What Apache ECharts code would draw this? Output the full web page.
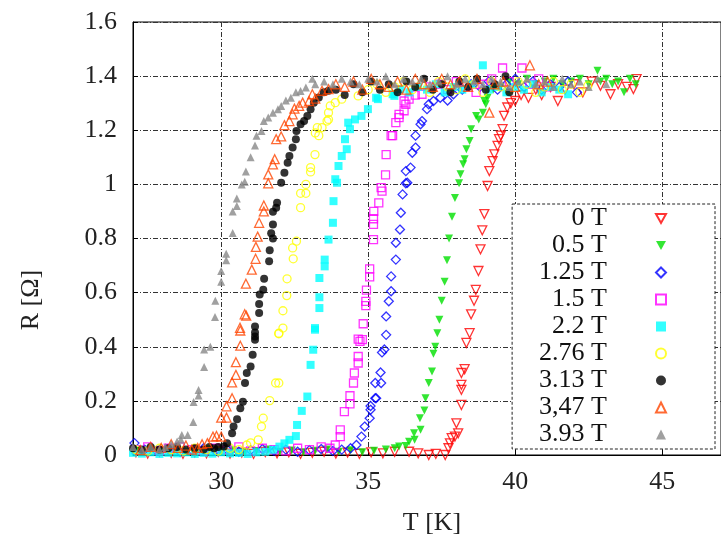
<!DOCTYPE html>
<html>
<head>
<meta charset="utf-8">
<script src="https://cdn.jsdelivr.net/npm/echarts@6/dist/echarts.min.js"></script>
<style>
  html, body { margin: 0; padding: 0; background: #fff; }
  #chart { width: 721px; height: 537px; }
</style>
</head>
<body>
<div id="chart"></div>
<script>
// Resistance R [Ω] versus temperature T [K] for several applied magnetic fields.
const fieldNames = ['0 T', '0.5 T', '1.25 T', '1.5 T', '2.2 T', '2.76 T', '3.13 T', '3,47 T', '3.93 T'];
const xTickValues = [30, 35, 40, 45];

const r0T = [
  [27.1,0.01],[27.5,0.005],[27.9,0.012],[28.3,0.008],[28.7,0.004],[29.1,0.01],[29.5,0.006],[29.9,0.012],[30.3,0.005],[30.7,0.009],
  [31.1,0.004],[31.5,0.011],[31.9,0.006],[32.3,0.01],[32.7,0.004],[33.1,0.008],[33.5,0.012],[33.9,0.005],[34.3,0.009],[34.7,0.004],
  [35.1,0.01],[35.5,0.006],[35.9,0.012],[36.39,0.012],[36.7,0.006],[37.06,0.0],[37.3,0.004],[37.62,0.0],
  [37.73,0.025],[37.78,0.043],[37.84,0.062],[37.95,0.068],[38.06,0.08],[38.0,0.117],[38.17,0.185],[38.17,0.241],[38.17,0.259],
  [38.17,0.303],[38.28,0.317],[38.34,0.414],[38.45,0.45],[38.5,0.52],[38.6,0.57],[38.66,0.61],[38.75,0.68],[38.82,0.76],
  [38.88,0.83],[38.95,0.89],[39.06,0.994],[39.12,1.049],[39.23,1.086],[39.29,1.111],[39.4,1.142],[39.45,1.167],[39.51,1.18],
  [39.57,1.204],[39.62,1.253],[39.73,1.284],[39.85,1.30],[40.0,1.308],[40.2,1.33],[40.45,1.32],[40.7,1.35],[40.9,1.33],
  [41.2,1.36],[41.45,1.308],[41.7,1.35],[42.0,1.37],[42.3,1.34],[42.6,1.38],[42.9,1.364],[43.24,1.333],[43.5,1.37],
  [43.8,1.36],[44.02,1.352],[44.13,1.389]
];

const r05T = [
  [27.2,0.015],[27.6,0.02],[28.0,0.012],[28.4,0.018],[28.8,0.01],[29.2,0.016],[29.6,0.02],[30.0,0.012],[30.4,0.018],[30.8,0.01],
  [31.2,0.015],[31.6,0.02],[32.0,0.012],[32.4,0.017],[32.8,0.01],[33.2,0.016],[33.6,0.02],[34.0,0.012],[34.4,0.018],[34.8,0.01],
  [35.2,0.016],[35.6,0.02],[35.9,0.025],[36.05,0.031],[36.28,0.033],
  [36.39,0.049],[36.58,0.056],[36.56,0.08],[36.78,0.093],[36.76,0.136],[36.91,0.164],[36.95,0.21],[37.06,0.266],[37.17,0.309],
  [37.22,0.374],[37.28,0.40],[37.35,0.45],[37.42,0.50],[37.5,0.57],[37.6,0.64],[37.68,0.72],[37.75,0.80],[37.85,0.88],
  [37.95,0.95],[38.09,1.004],[38.14,1.037],[38.23,1.074],[38.28,1.093],[38.34,1.13],[38.45,1.16],[38.5,1.204],[38.67,1.253],
  [38.76,1.24],[38.9,1.265],[39.0,1.296],[38.95,1.308],[39.06,1.32],[39.25,1.35],[39.5,1.36],[39.8,1.38],[40.1,1.37],
  [40.4,1.39],[40.7,1.37],[41.0,1.38],[41.3,1.39],[41.6,1.37],[41.9,1.38],[42.2,1.39],[42.5,1.37],[42.8,1.42],[42.9,1.38],
  [43.1,1.39],[43.3,1.37],[43.5,1.38],[43.7,1.34],[43.9,1.39],[44.1,1.37]
];

const r125T = [
  [27.05,0.044],[27.4,0.02],[27.8,0.015],[28.2,0.022],[28.6,0.012],[29.0,0.018],[29.4,0.025],[29.8,0.015],[30.2,0.02],[30.6,0.012],
  [31.0,0.018],[31.4,0.022],[31.8,0.015],[32.2,0.02],[32.6,0.012],[33.0,0.018],[33.4,0.022],[33.8,0.015],[34.1,0.02],[34.4,0.025],
  [34.6,0.037],[34.77,0.068],[34.88,0.105],[35.05,0.136],[35.08,0.167],[35.08,0.181],[35.24,0.21],[35.27,0.21],[35.24,0.266],
  [35.44,0.266],[35.42,0.305],[35.47,0.379],[35.55,0.39],[35.61,0.444],[35.61,0.512],[35.7,0.568],[35.78,0.605],[35.78,0.66],
  [35.94,0.722],[35.94,0.784],[36.08,0.833],[36.11,0.895],[36.17,0.963],[36.28,1.004],[36.33,1.006],[36.28,1.049],[36.44,1.062],
  [36.5,1.117],[36.61,1.136],[36.61,1.18],[36.78,1.222],[36.83,1.234],[37.0,1.278],[37.06,1.296],[37.22,1.308],[37.45,1.32],
  [37.7,1.31],[37.9,1.333],[38.2,1.35],[38.5,1.37],[38.8,1.36],[39.1,1.38],[39.4,1.35],[39.7,1.37],[40.0,1.39],[40.3,1.36],
  [40.6,1.38],[40.9,1.35],[41.2,1.37],[41.5,1.36],[41.8,1.38],[42.1,1.34]
];

const r15T = [
  [27.1,0.02],[27.5,0.03],[27.9,0.015],[28.2,0.025],[28.6,0.03],[29.0,0.02],[29.4,0.015],[29.8,0.025],[30.2,0.02],[30.6,0.03],
  [31.0,0.015],[31.4,0.025],[31.8,0.02],[32.2,0.015],[32.6,0.025],[33.0,0.02],[33.4,0.03],[33.7,0.025],
  [33.88,0.037],[34.05,0.068],[34.05,0.093],[34.19,0.16],[34.38,0.189],[34.38,0.219],[34.5,0.266],[34.53,0.303],[34.66,0.34],
  [34.66,0.364],[34.72,0.42],[34.8,0.426],[34.66,0.428],[34.83,0.485],[34.92,0.552],[34.92,0.568],[34.94,0.609],[35.05,0.658],
  [35.05,0.688],[35.18,0.796],[35.18,0.852],[35.18,0.873],[35.19,0.90],[35.36,0.932],[35.47,0.975],[35.44,0.988],[35.59,1.035],
  [35.61,1.11],[35.78,1.18],[35.83,1.18],[35.94,1.228],[36.05,1.247],[36.05,1.259],[36.22,1.272],[36.28,1.296],[36.22,1.308],
  [36.39,1.315],[36.6,1.33],[36.83,1.333],[37.1,1.36],[37.4,1.37],[37.7,1.35],[38.0,1.38],[38.3,1.36],[38.67,1.34],[38.9,1.37],
  [39.2,1.39],[39.57,1.43],[39.8,1.38],[40.23,1.43],[40.5,1.37],[40.8,1.39],[41.1,1.36]
];

const r22T = [
  [27.0,0.008],[27.3,0.005],[27.6,0.01],[27.9,0.004],[28.2,0.008],[28.5,0.006],[28.8,0.01],[29.1,0.004],[29.4,0.008],[29.7,0.005],
  [30.0,0.01],[30.3,0.006],[30.6,0.008],[30.9,0.004],[31.2,0.01],[31.5,0.012],
  [31.76,0.019],[31.98,0.031],[32.15,0.043],[32.32,0.056],[32.54,0.07],[32.58,0.111],[32.74,0.163],[32.93,0.216],[33.04,0.333],
  [33.13,0.389],[33.19,0.463],[33.19,0.469],[33.34,0.543],[33.34,0.583],[33.34,0.654],[33.52,0.697],[33.52,0.722],[33.65,0.796],
  [33.8,0.858],[33.82,0.938],[33.88,1.019],[33.94,1.006],[33.99,1.068],[34.1,1.105],[34.27,1.13],[34.21,1.167],[34.38,1.204],
  [34.32,1.228],[34.55,1.24],[34.77,1.253],[34.99,1.278],[35.27,1.32],[35.33,1.315],[35.83,1.333],[35.89,1.327],[36.1,1.352],
  [36.4,1.34],[36.7,1.36],[37.0,1.35],[37.3,1.37],[37.6,1.34],[37.9,1.36],[38.2,1.35],[38.5,1.37],[38.9,1.44],[39.1,1.35],
  [39.4,1.36],[39.7,1.34],[40.0,1.36],[40.3,1.35],[40.6,1.37],[40.9,1.34],[41.2,1.36],[41.5,1.35],[41.8,1.333]
];

const r276T = [
  [27.1,0.02],[27.5,0.015],[27.9,0.025],[28.3,0.02],[28.7,0.015],[29.1,0.025],[29.5,0.02],[29.9,0.015],[30.3,0.025],[30.6,0.02],
  [30.87,0.037],[31.0,0.045],[31.26,0.056],[31.37,0.105],[31.43,0.136],[31.65,0.201],[31.85,0.266],[31.96,0.266],[31.96,0.45],
  [31.96,0.448],[32.1,0.469],[32.1,0.533],[32.23,0.589],[32.24,0.651],[32.45,0.725],[32.43,0.765],[32.56,0.79],[32.7,0.914],
  [32.7,0.967],[32.88,0.967],[32.88,1.0],[33.04,1.046],[33.04,1.062],[33.19,1.11],[33.2,1.19],[33.32,1.18],[33.27,1.21],
  [33.43,1.21],[33.6,1.234],[33.65,1.24],[33.65,1.265],[33.71,1.29],[33.88,1.302],[34.1,1.315],[34.66,1.327],[35.0,1.35],
  [35.3,1.37],[35.6,1.34],[35.9,1.36],[36.2,1.38],[36.5,1.35],[36.8,1.37],[37.1,1.34],[37.4,1.38],[37.7,1.36],[38.0,1.35],
  [38.3,1.39],[38.6,1.37],[38.9,1.34],[39.2,1.38],[39.5,1.36],[39.8,1.35],[40.1,1.38],[40.4,1.37],[40.7,1.34],[41.0,1.36],
  [41.3,1.38],[41.6,1.35],[41.9,1.37],[42.2,1.34],[42.47,1.364]
];

const r313T = [
  [27.0,0.025],[27.3,0.02],[27.6,0.03],[27.9,0.02],[28.2,0.025],[28.5,0.03],[28.8,0.02],[29.1,0.025],[29.4,0.02],[29.6,0.03],
  [29.76,0.025],[29.9,0.03],
  [30.09,0.031],[30.2,0.043],[30.37,0.08],[30.42,0.105],[30.54,0.132],[30.65,0.173],[30.74,0.197],[30.81,0.266],[30.87,0.303],
  [31.0,0.327],[31.07,0.37],[31.15,0.426],[31.15,0.438],[31.15,0.453],[31.15,0.475],[31.29,0.525],[31.29,0.558],[31.31,0.593],
  [31.43,0.611],[31.46,0.651],[31.63,0.716],[31.65,0.757],[31.76,0.80],[31.7,0.819],[31.76,0.852],[31.76,0.899],[31.87,0.914],
  [31.9,0.932],[32.04,1.006],[32.15,1.043],[32.26,1.08],[32.32,1.105],[32.43,1.136],[32.54,1.167],[32.56,1.197],[32.7,1.222],
  [32.82,1.234],[32.93,1.253],[33.04,1.278],[33.15,1.302],[33.32,1.321],[33.49,1.34],[33.65,1.346],[33.9,1.35],[34.2,1.33],
  [34.5,1.37],[34.8,1.34],[35.1,1.38],[35.4,1.35],[35.7,1.37],[36.0,1.34],[36.3,1.38],[36.6,1.36],[36.9,1.39],[37.2,1.35],
  [37.5,1.37],[37.8,1.34],[38.1,1.38],[38.4,1.36],[38.7,1.39],[39.0,1.35],[39.3,1.37],[39.67,1.40],[39.8,1.34]
];

const r347T = [
  [27.25,0.018],[27.6,0.03],[27.96,0.026],[28.3,0.04],[28.53,0.026],[28.8,0.035],[29.0,0.02],[29.2,0.026],[29.35,0.04],[29.53,0.044],
  [29.72,0.068],[29.84,0.07],[30.0,0.068],[30.0,0.138],[30.18,0.138],[30.18,0.18],[30.37,0.21],[30.37,0.268],[30.5,0.296],
  [30.5,0.343],[30.65,0.404],[30.65,0.46],[30.64,0.47],[30.8,0.52],[30.85,0.515],[30.84,0.633],[31.04,0.685],[31.17,0.725],
  [31.18,0.769],[31.24,0.807],[31.29,0.858],[31.45,0.90],[31.45,0.922],[31.6,1.004],[31.6,1.037],[31.76,1.074],[31.82,1.093],
  [31.87,1.167],[32.04,1.177],[32.15,1.219],[32.32,1.234],[32.43,1.259],[32.49,1.28],[32.65,1.29],[32.77,1.302],[32.99,1.308],
  [33.1,1.333],[33.2,1.317],[33.43,1.346],[33.65,1.352],[33.9,1.37],[34.2,1.36],[34.5,1.38],[34.8,1.35],[35.1,1.39],[35.4,1.37],
  [35.7,1.36],[36.0,1.38],[36.3,1.35],[36.6,1.39],[36.9,1.37],[37.2,1.36],[37.5,1.39],[37.8,1.37],[38.1,1.38],[38.4,1.36],
  [38.7,1.39],[39.12,1.265],[39.3,1.37],[39.6,1.38],[40.0,1.36],[40.5,1.44],[40.8,1.37],[41.1,1.38]
];

const r393T = [
  [27.0,0.03],[27.3,0.02],[27.6,0.03],[27.9,0.02],[28.1,0.03],[28.3,0.04],[28.5,0.05],[28.63,0.056],[28.66,0.074],[28.86,0.074],
  [29.05,0.122],[29.06,0.196],[29.23,0.22],[29.23,0.24],[29.42,0.325],[29.42,0.39],[29.63,0.40],[29.79,0.51],[29.8,0.57],
  [30.0,0.64],[30.0,0.68],[30.17,0.72],[30.17,0.744],[30.39,0.82],[30.39,0.90],[30.53,0.92],[30.53,0.948],[30.7,1.0],[30.8,1.01],
  [30.84,1.048],[31.0,1.1],[31.15,1.144],[31.2,1.18],[31.37,1.197],[31.45,1.234],[31.6,1.247],[31.76,1.265],[31.93,1.278],
  [32.04,1.29],[32.2,1.31],[32.37,1.32],[32.54,1.34],[32.7,1.345],[32.88,1.358],[33.1,1.39],[33.2,1.37],[33.5,1.38],[33.8,1.37],
  [34.1,1.39],[34.4,1.38],[34.7,1.37],[35.0,1.39],[35.3,1.38],[35.6,1.40],[35.9,1.37],[36.2,1.39],[36.5,1.38],[36.8,1.39],
  [37.1,1.37],[37.4,1.38],[37.7,1.40],[38.0,1.37],[38.3,1.39],[38.6,1.38],[38.9,1.37],[39.2,1.39],[39.5,1.38],[39.8,1.36],
  [40.1,1.38],[40.4,1.39],[40.7,1.37],[41.0,1.38],[41.3,1.36],[41.6,1.39],[41.9,1.37],[42.2,1.38],[42.5,1.36],[42.8,1.39],[43.1,1.37]
];

const seriesData = [r0T, r05T, r125T, r15T, r22T, r276T, r313T, r347T, r393T];

// point-down triangle drawn as a path so the legend shows it the same way
const downTriangle = 'path://M0,0L10,0L5,9Z';

// marker look per field: symbol, colour, open/filled, size
const markerStyles = [
  { symbol: downTriangle, color: '#ff0000', open: true,  size: 9 },
  { symbol: downTriangle, color: '#00e000', open: false, size: 8 },
  { symbol: 'diamond',    color: '#0000ff', open: true,  size: 9 },
  { symbol: 'rect',       color: '#ff00ff', open: true,  size: 8 },
  { symbol: 'rect',       color: '#00ffff', open: false, size: 8 },
  { symbol: 'circle',     color: '#ffff00', open: true,  size: 8 },
  { symbol: 'circle',     color: '#000000', open: false, size: 8 },
  { symbol: 'triangle',   color: '#ff4500', open: true,  size: 9 },
  { symbol: 'triangle',   color: '#888888', open: false, size: 8 }
];

const serif = 'Liberation Serif';
const gridLine = { color: '#333', width: 1, type: [5, 2, 1, 2] };

const series = fieldNames.map((name, i) => {
  const m = markerStyles[i];
  return {
    name: name,
    type: 'scatter',
    data: seriesData[i],
    symbol: m.symbol,
    symbolSize: m.size,
    itemStyle: m.open
      ? { color: 'rgba(255,255,255,0)', borderColor: m.color, borderWidth: 1.3 }
      : { color: m.color },
    emphasis: { disabled: true }
  };
});

const chart = echarts.init(document.getElementById('chart'), null, { renderer: 'canvas' });
chart.setOption({
  animation: false,
  backgroundColor: '#fff',
  grid: {
    left: 133, top: 22, right: -11, bottom: 82,
    show: true, borderColor: '#000', borderWidth: 1, backgroundColor: 'transparent'
  },
  xAxis: {
    type: 'value', min: 27, max: 47,
    axisLine: { show: true, lineStyle: { color: '#000', width: 1 } },
    axisTick: { show: true, inside: true, length: 5, customValues: xTickValues, lineStyle: { color: '#000' } },
    axisLabel: { customValues: xTickValues, margin: 14, fontFamily: serif, fontSize: 26, color: '#222' },
    splitLine: { show: true, lineStyle: gridLine }
  },
  yAxis: {
    type: 'value', min: 0, max: 1.6, interval: 0.2,
    axisLine: { show: true, lineStyle: { color: '#000', width: 1 } },
    axisTick: { show: true, inside: true, length: 5, lineStyle: { color: '#000' } },
    axisLabel: { margin: 16, fontFamily: serif, fontSize: 26, color: '#222' },
    splitLine: { show: true, lineStyle: gridLine }
  },
  legend: {
    data: fieldNames,
    orient: 'vertical',
    right: 6, top: 204,
    align: 'right',
    itemWidth: 10, itemHeight: 10, itemGap: 0,
    padding: [1, 48, 1, 27],
    backgroundColor: '#fff',
    borderColor: '#222', borderWidth: 1, borderType: [3, 2],
    textStyle: { fontFamily: serif, fontSize: 26, color: '#111', lineHeight: 27, padding: [0, 44, 0, 0] },
    selectedMode: false
  },
  graphic: [
    {
      type: 'text', x: 31, y: 300, rotation: Math.PI / 2,
      style: { text: 'R [Ω]', fontFamily: serif, fontSize: 26, fill: '#222', align: 'center', verticalAlign: 'middle' }
    },
    {
      type: 'text', x: 432, y: 523,
      style: { text: 'T [K]', fontFamily: serif, fontSize: 26, fill: '#222', align: 'center', verticalAlign: 'middle' }
    }
  ],
  series: series
});
</script>
</body>
</html>
